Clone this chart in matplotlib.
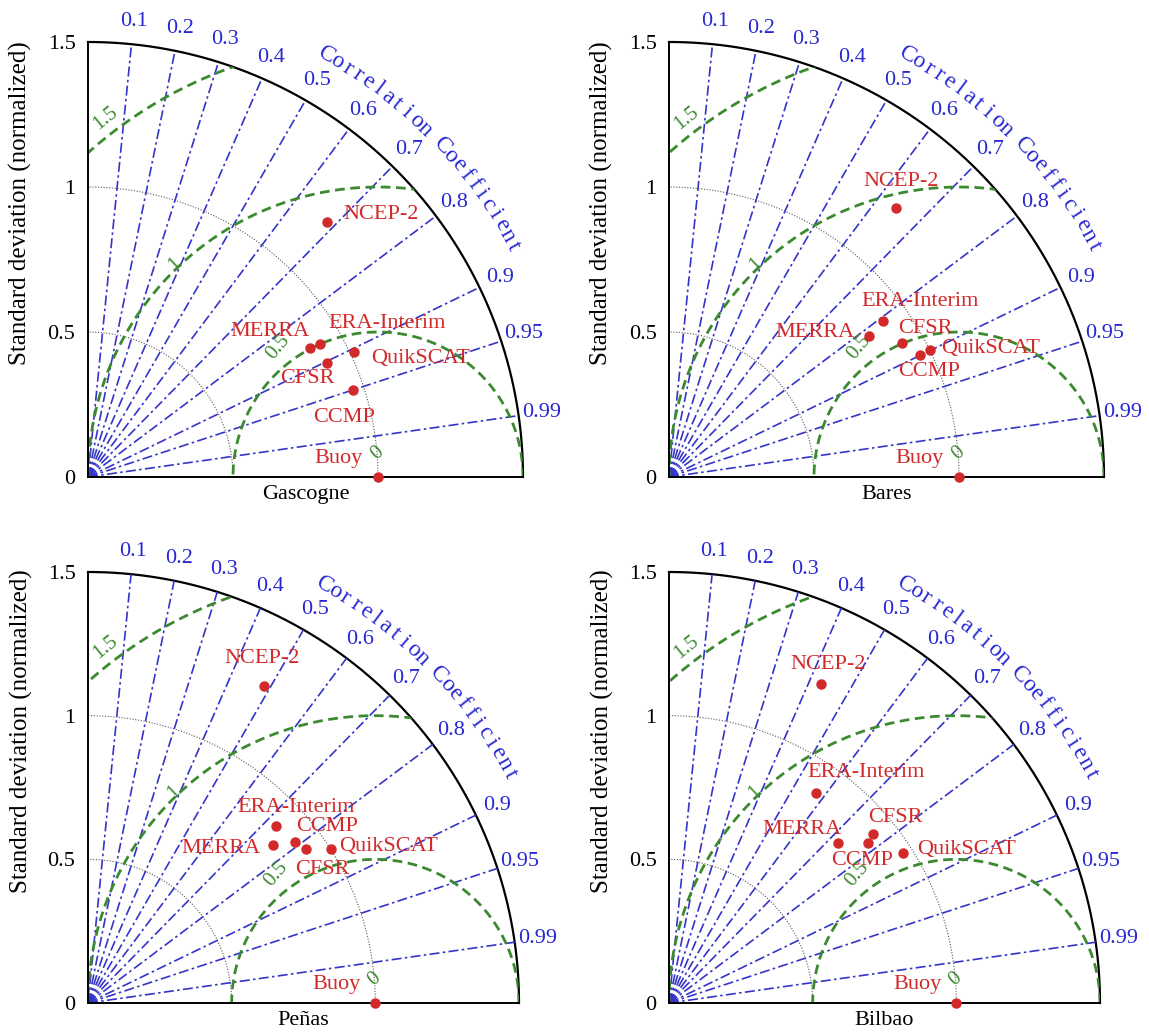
import matplotlib
matplotlib.use("Agg")
import numpy as np
import matplotlib.pyplot as plt
from matplotlib.patches import Wedge

plt.rcParams["font.family"] = ["Liberation Serif", "DejaVu Serif"]

# --- data -------------------------------------------------------------
STATIONS = ["Gascogne", "Bares", "Peñas", "Bilbao"]
MODELS = ["NCEP-2", "MERRA", "ERA-Interim", "QuikSCAT", "CFSR", "CCMP", "Buoy"]

# normalized standard deviation and correlation of each model vs. buoy
STD_GASCOGNE = [1.205, 0.886, 0.922, 1.014, 0.912, 0.963, 1.0]
CORR_GASCOGNE = [0.684, 0.864, 0.868, 0.905, 0.902, 0.950, 1.0]
STD_BARES = [1.213, 0.844, 0.914, 1.003, 0.928, 0.963, 1.0]
CORR_BARES = [0.645, 0.817, 0.808, 0.899, 0.867, 0.899, 1.0]
STD_PENAS = [1.262, 0.847, 0.897, 1.000, 0.930, 0.914, 1.0]
CORR_PENAS = [0.485, 0.759, 0.728, 0.844, 0.816, 0.790, 1.0]
STD_BILBAO = [1.230, 0.810, 0.892, 0.968, 0.922, 0.889, 1.0]
CORR_BILBAO = [0.431, 0.728, 0.572, 0.843, 0.769, 0.778, 1.0]

CORR_TICKS = [0.1, 0.2, 0.3, 0.4, 0.5, 0.6, 0.7, 0.8, 0.9, 0.95, 0.99]
STD_TICKS = [0, 0.5, 1, 1.5]
STD_TICK_LABELS = ["0", "0.5", "1", "1.5"]
RMS_LEVELS = [0.5, 1.0, 1.5]

# --- label placement (offset in pixels, alignment) --------------------
LABEL_POS = [
    {"NCEP-2": (16, 8, "left"), "MERRA": (0, 16, "right"),
     "ERA-Interim": (8, 21, "left"), "QuikSCAT": (17, -7, "left"),
     "CFSR": (8, -16, "right"), "CCMP": (-9, -28, "center"),
     "Buoy": (-15, 19, "right")},
    {"NCEP-2": (5, 27, "center"), "MERRA": (-14, 3, "right"),
     "ERA-Interim": (-22, 19, "left"), "QuikSCAT": (11, 1, "left"),
     "CFSR": (-4, 14, "left"), "CCMP": (9, -17, "center"),
     "Buoy": (-15, 19, "right")},
    {"NCEP-2": (-2, 27, "center"), "MERRA": (-12, -4, "right"),
     "ERA-Interim": (20, 19, "center"), "QuikSCAT": (9, 2, "left"),
     "CFSR": (16, -21, "center"), "CCMP": (1, 15, "left"),
     "Buoy": (-15, 19, "right")},
    {"NCEP-2": (7, 20, "center"), "MERRA": (3, 14, "right"),
     "ERA-Interim": (-8, 20, "left"), "QuikSCAT": (14, 4, "left"),
     "CFSR": (-5, 16, "left"), "CCMP": (-6, -18, "center"),
     "Buoy": (-15, 19, "right")},
]

BLUE = "#2828d2"
LINE_BLUE = "#3434c8"
GREEN = "#3c8a30"
RED = "#d22a2a"
RMAX = 1.5

W, H = 1149, 1036
fig = plt.figure(figsize=(W / 100, H / 100), dpi=100)

# axes boxes in pixels: left, top, size
BOXES = [(88, 42, 435), (669, 42, 435), (88, 572, 431), (669, 572, 431)]
ALL_STD = [STD_GASCOGNE, STD_BARES, STD_PENAS, STD_BILBAO]
ALL_CORR = [CORR_GASCOGNE, CORR_BARES, CORR_PENAS, CORR_BILBAO]


def taylor(ax, station, stds, corrs, labpos):
    ax.set_xlim(0, RMAX)
    ax.set_ylim(0, RMAX)
    for s in ["top", "right"]:
        ax.spines[s].set_visible(False)
    for s in ["left", "bottom"]:
        ax.spines[s].set_linewidth(1.4)
    ax.set_xticks([])
    ax.set_yticks(STD_TICKS)
    ax.set_yticklabels(STD_TICK_LABELS, fontsize=16)
    ax.tick_params(axis="y", length=0, pad=9)
    ax.set_xlabel(station, fontsize=16, labelpad=6)
    ax.set_ylabel("Standard deviation (normalized)", fontsize=18)
    ax.yaxis.set_label_coords(-0.128, 0.63)

    clip = Wedge((0, 0), RMAX, 0, 90, transform=ax.transData)

    t = np.linspace(0, np.pi / 2, 300)
    # std dotted arcs
    for r in [0.5, 1.0]:
        ax.plot(r * np.cos(t), r * np.sin(t), ls=(0, (1, 1.5)), color="0.35", lw=0.8)
    # outer arc
    ax.plot(RMAX * np.cos(t), RMAX * np.sin(t), color="black", lw=1.6, clip_on=False)

    # correlation lines and labels
    for c in CORR_TICKS:
        th = np.arccos(c)
        ax.plot([0, RMAX * np.cos(th)], [0, RMAX * np.sin(th)],
                color=LINE_BLUE, lw=1.2, ls=(0, (6, 2, 1.5, 2)))
        ax.text(1.58 * np.cos(th), 1.58 * np.sin(th), f"{c:g}",
                color=BLUE, fontsize=16, ha="center", va="center")

    # curved axis title
    title = "Correlation Coefficient"
    angs = np.linspace(60.5, 28.5, len(title))
    for ch, a in zip(title, angs):
        if ch == " ":
            continue
        ar = np.deg2rad(a)
        ax.text(1.67 * np.cos(ar), 1.67 * np.sin(ar), ch, color=BLUE,
                fontsize=17, rotation=a - 90, ha="center", va="center",
                rotation_mode="anchor")

    # centered RMS circles
    tt = np.linspace(0, np.pi, 400)
    for r in RMS_LEVELS:
        ln, = ax.plot(1 + r * np.cos(tt), r * np.sin(tt), color=GREEN,
                      lw=2, ls=(0, (3.5, 2)))
        ln.set_clip_path(clip)
    for txt, x, y, rot in [("1.5", 0.06, 1.237, 39), ("1", 0.30, 0.733, 44),
                           ("0.5", 0.656, 0.449, 50), ("0", 0.998, 0.082, 40)]:
        ax.text(x, y, txt, color=GREEN, fontsize=15, rotation=rot,
                ha="center", va="center")

    # model points
    stds = np.asarray(stds)
    corrs = np.asarray(corrs)
    xs = stds * corrs
    ys = stds * np.sin(np.arccos(corrs))
    ax.plot(xs, ys, "o", color=RED, ms=6.5, clip_on=False, zorder=5)
    for name, x, y in zip(MODELS, xs, ys):
        dx, dy, ha = labpos[name]
        ax.annotate(name, (x, y), xytext=(dx, dy), textcoords="offset pixels",
                    ha=ha, va="center", color=RED, fontsize=16)


for (l, top, s), st, sd, cc, lp in zip(BOXES, STATIONS, ALL_STD, ALL_CORR, LABEL_POS):
    ax = fig.add_axes([l / W, (H - top - s) / H, s / W, s / H])
    taylor(ax, st, sd, cc, lp)

fig.savefig("out.png", dpi=100)
